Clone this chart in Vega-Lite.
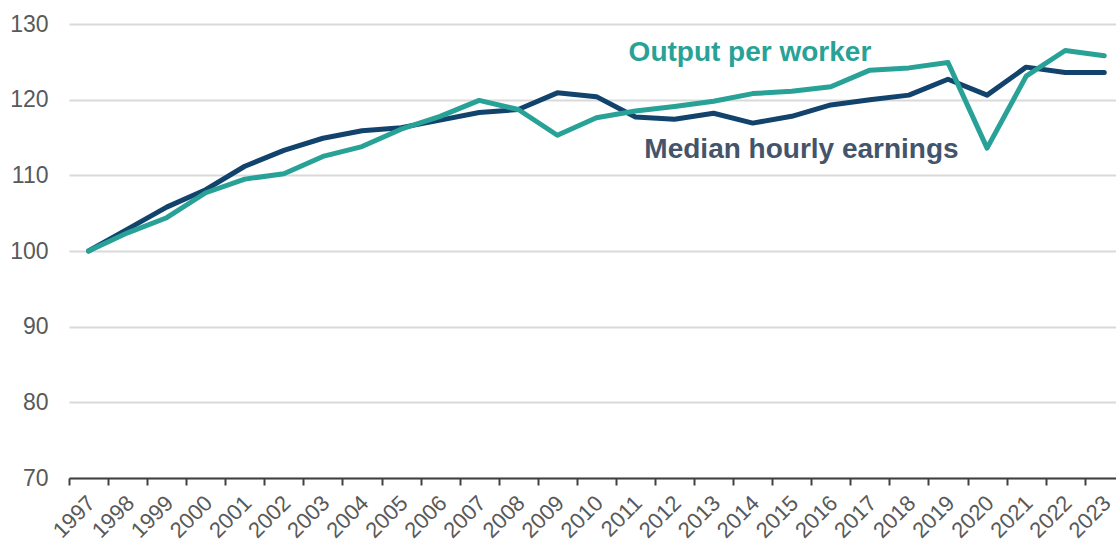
{
  "$schema": "https://vega.github.io/schema/vega-lite/v6.json",
  "width": 1047,
  "height": 454,
  "autosize": {"type": "none"},
  "padding": {"left": 69, "top": 24, "right": 0, "bottom": 64},
  "background": "white",
  "config": {
    "view": {"stroke": null},
    "font": "Liberation Sans"
  },
  "datasets": {
    "series": [
      {"year": 1997, "series": "Median hourly earnings", "value": 100.0},
      {"year": 1998, "series": "Median hourly earnings", "value": 102.9},
      {"year": 1999, "series": "Median hourly earnings", "value": 105.8},
      {"year": 2000, "series": "Median hourly earnings", "value": 108.1},
      {"year": 2001, "series": "Median hourly earnings", "value": 111.2},
      {"year": 2002, "series": "Median hourly earnings", "value": 113.3},
      {"year": 2003, "series": "Median hourly earnings", "value": 114.9},
      {"year": 2004, "series": "Median hourly earnings", "value": 115.9},
      {"year": 2005, "series": "Median hourly earnings", "value": 116.3},
      {"year": 2006, "series": "Median hourly earnings", "value": 117.3},
      {"year": 2007, "series": "Median hourly earnings", "value": 118.3},
      {"year": 2008, "series": "Median hourly earnings", "value": 118.7},
      {"year": 2009, "series": "Median hourly earnings", "value": 120.9},
      {"year": 2010, "series": "Median hourly earnings", "value": 120.4},
      {"year": 2011, "series": "Median hourly earnings", "value": 117.7},
      {"year": 2012, "series": "Median hourly earnings", "value": 117.4},
      {"year": 2013, "series": "Median hourly earnings", "value": 118.2},
      {"year": 2014, "series": "Median hourly earnings", "value": 116.9},
      {"year": 2015, "series": "Median hourly earnings", "value": 117.8},
      {"year": 2016, "series": "Median hourly earnings", "value": 119.3},
      {"year": 2017, "series": "Median hourly earnings", "value": 120.0},
      {"year": 2018, "series": "Median hourly earnings", "value": 120.6},
      {"year": 2019, "series": "Median hourly earnings", "value": 122.7},
      {"year": 2020, "series": "Median hourly earnings", "value": 120.6},
      {"year": 2021, "series": "Median hourly earnings", "value": 124.3},
      {"year": 2022, "series": "Median hourly earnings", "value": 123.6},
      {"year": 2023, "series": "Median hourly earnings", "value": 123.6},
      {"year": 1997, "series": "Output per worker", "value": 100.0},
      {"year": 1998, "series": "Output per worker", "value": 102.4},
      {"year": 1999, "series": "Output per worker", "value": 104.4},
      {"year": 2000, "series": "Output per worker", "value": 107.7},
      {"year": 2001, "series": "Output per worker", "value": 109.5},
      {"year": 2002, "series": "Output per worker", "value": 110.2},
      {"year": 2003, "series": "Output per worker", "value": 112.5},
      {"year": 2004, "series": "Output per worker", "value": 113.8},
      {"year": 2005, "series": "Output per worker", "value": 116.1},
      {"year": 2006, "series": "Output per worker", "value": 117.8},
      {"year": 2007, "series": "Output per worker", "value": 119.9},
      {"year": 2008, "series": "Output per worker", "value": 118.7},
      {"year": 2009, "series": "Output per worker", "value": 115.3},
      {"year": 2010, "series": "Output per worker", "value": 117.6},
      {"year": 2011, "series": "Output per worker", "value": 118.5},
      {"year": 2012, "series": "Output per worker", "value": 119.1},
      {"year": 2013, "series": "Output per worker", "value": 119.8},
      {"year": 2014, "series": "Output per worker", "value": 120.8},
      {"year": 2015, "series": "Output per worker", "value": 121.1},
      {"year": 2016, "series": "Output per worker", "value": 121.7},
      {"year": 2017, "series": "Output per worker", "value": 123.9},
      {"year": 2018, "series": "Output per worker", "value": 124.2},
      {"year": 2019, "series": "Output per worker", "value": 124.9},
      {"year": 2020, "series": "Output per worker", "value": 113.6},
      {"year": 2021, "series": "Output per worker", "value": 123.1},
      {"year": 2022, "series": "Output per worker", "value": 126.5},
      {"year": 2023, "series": "Output per worker", "value": 125.8}
    ],
    "labels": [
      {"year": 2013.93, "value": 125.1, "series": "Output per worker", "text": "Output per worker"},
      {"year": 2015.25, "value": 112.25, "series": "Median hourly earnings", "text": "Median hourly earnings"}
    ]
  },
  "layer": [
    {
      "data": {"name": "series"},
      "mark": {"type": "line", "strokeWidth": 5, "strokeCap": "round", "strokeJoin": "round", "clip": true},
      "encoding": {
        "x": {
          "field": "year",
          "type": "quantitative",
          "scale": {"domain": [1996.5, 2023.3], "nice": false, "zero": false},
          "axis": {
            "title": null,
            "values": [1996.5, 1997.5, 1998.5, 1999.5, 2000.5, 2001.5, 2002.5, 2003.5, 2004.5, 2005.5, 2006.5, 2007.5, 2008.5, 2009.5, 2010.5, 2011.5, 2012.5, 2013.5, 2014.5, 2015.5, 2016.5, 2017.5, 2018.5, 2019.5, 2020.5, 2021.5, 2022.5],
            "labelExpr": "toString(datum.value + 0.5)",
            "labelOffset": 15,
            "labelAngle": -45,
            "labelAlign": "right",
            "labelBaseline": "top",
            "labelPadding": 7,
            "labelFont": "Liberation Sans",
            "labelFontSize": 22,
            "labelColor": "#595959",
            "labelOverlap": false,
            "labelFlush": false,
            "labelBound": false,
            "grid": false,
            "domainColor": "#404040",
            "domainWidth": 2,
            "tickColor": "#404040",
            "tickWidth": 2,
            "tickSize": 7
          }
        },
        "y": {
          "field": "value",
          "type": "quantitative",
          "scale": {"domain": [70, 130], "nice": false, "zero": false},
          "axis": {
            "title": null,
            "values": [70, 80, 90, 100, 110, 120, 130],
            "domain": false,
            "ticks": false,
            "tickSize": 0,
            "labelPadding": 21,
            "labelFont": "Liberation Sans",
            "labelFontSize": 23,
            "labelColor": "#595959",
            "labelFlush": false,
            "gridColor": "#d9d9d9",
            "gridWidth": 2
          }
        },
        "color": {
          "field": "series",
          "type": "nominal",
          "scale": {"domain": ["Median hourly earnings", "Output per worker"], "range": ["#12436D", "#28A197"]},
          "legend": null
        },
        "order": {"field": "year", "type": "quantitative"}
      }
    },
    {
      "data": {"name": "labels"},
      "mark": {"type": "text", "fontWeight": "bold", "fontSize": 28, "font": "Liberation Sans", "align": "center", "baseline": "alphabetic"},
      "encoding": {
        "x": {"field": "year", "type": "quantitative"},
        "y": {"field": "value", "type": "quantitative"},
        "text": {"field": "text"},
        "color": {
          "field": "series",
          "type": "nominal",
          "scale": {"domain": ["Median hourly earnings", "Output per worker"], "range": ["#44546A", "#28A197"]},
          "legend": null
        }
      }
    }
  ],
  "resolve": {"scale": {"color": "independent"}}
}
